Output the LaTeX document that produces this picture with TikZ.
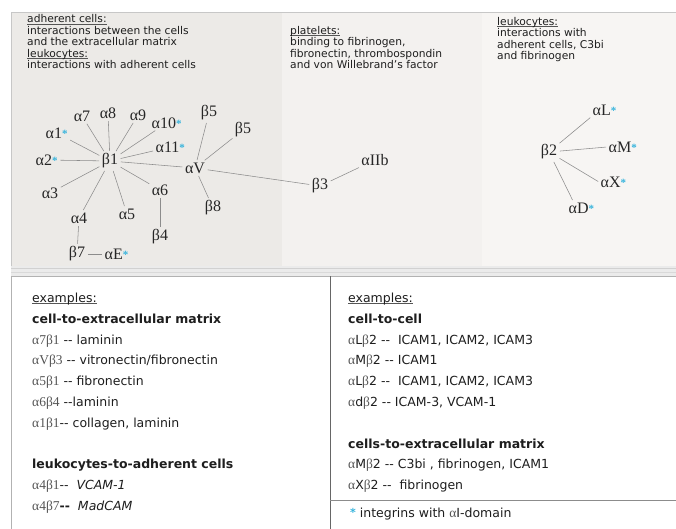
\documentclass[tikz,border=0pt]{standalone}
\usepackage{fontspec}
\setmainfont{DejaVu Sans}
\newfontfamily\grf{Liberation Serif}
\definecolor{pL}{HTML}{ECEAE7}
\definecolor{pM}{HTML}{F3F1EF}
\definecolor{pR}{HTML}{F7F5F3}
\definecolor{txt}{HTML}{1E1E1E}
\definecolor{gtxt}{HTML}{555555}
\definecolor{astc}{HTML}{35B3DC}
\definecolor{linegray}{HTML}{8C8C8C}
\newcommand\cyst{\textcolor{astc}{\raisebox{1pt}{\fontsize{11}{11}\selectfont\bfseries *}}}
\newcommand\myA{{\fontsize{13.5}{13.5}\grf\color{gtxt}α}}
\newcommand\myB{{\fontsize{13.5}{13.5}\grf\color{gtxt}β}}
\newcommand\sg[1]{{\fontsize{13.5}{13.5}\grf\color{gtxt}#1}}
\newcommand\ulx[1]{\setbox0\hbox{#1}\rlap{\color{gtxt}\rule[-1.4pt]{\wd0}{0.45pt}}\box0}
\begin{document}
\begin{tikzpicture}[x=1pt,y=-1pt,
  lbl/.style={font=\fontsize{16}{16}\selectfont\grf, inner sep=1.5pt, text=black!85},
  ln/.style={draw=linegray, line width=0.55pt, shorten >=1pt, shorten <=1pt},
  hd/.style={font=\fontsize{10.7}{12}\selectfont, anchor=base west, inner sep=0pt, text=txt},
  bt/.style={font=\fontsize{12.5}{14}\selectfont, anchor=base west, inner sep=0pt, text=txt},
  bb/.style={font=\fontsize{12.5}{14}\selectfont\bfseries, anchor=base west, inner sep=0pt, text=txt},
]
\useasboundingbox (0,0) rectangle (676,529);
\fill[white] (0,0) rectangle (676,529);
% top panel
\fill[pL] (11,12) rectangle (282,266);
\fill[pM] (282,12) rectangle (482,266);
\fill[pR] (482,12) rectangle (676,266);
\draw[draw=black!22, line width=0.6pt] (11,266) -- (11,12) -- (676,12);
\fill[black!8] (11,266) rectangle (676,276);
\draw[black!18, line width=0.8pt] (11,268) -- (676,268);
\draw[black!15, line width=0.8pt] (11,272) -- (676,272);
% bottom boxes
\draw[black!30, line width=0.6pt] (11,529) -- (11,276) -- (676,276);
\draw[black!60, line width=0.8pt] (330,276) -- (330,529);
\draw[black!45, line width=0.6pt] (330,500) -- (676,500);

% header texts
\node[hd] (h1) at (27,23) {\ulx{adherent cells:}};
\node[hd] (h2) at (27,34.5) {interactions between the cells};
\node[hd] (h3) at (27,46) {and the extracellular matrix};
\node[hd] (h4) at (27,57.5) {\ulx{leukocytes:}};
\node[hd] (h5) at (27,69) {interactions with adherent cells};
\node[hd] (p1) at (290,34.5) {\ulx{platelets:}};
\node[hd] (p2) at (290,46) {binding to fibrinogen,};
\node[hd] (p3) at (290,57.5) {fibronectin, thrombospondin};
\node[hd] (p4) at (290,69) {and von Willebrand's factor};
\node[hd] (r1) at (497,25.5) {\ulx{leukocytes:}};
\node[hd] (r2) at (497,37) {interactions with};
\node[hd] (r3) at (497,48.5) {adherent cells, C3bi};
\node[hd] (r4) at (497,60) {and fibrinogen};

% integrin labels
\node[lbl] (a7) at (82,116) {α7};
\node[lbl] (a8) at (108,113) {α8};
\node[lbl] (a9) at (138,115) {α9};
\node[lbl,anchor=west] (a10) at (150,123) {α10\cyst};
\node[lbl] (b5a) at (209,113) {β5};
\node[lbl] (b5b) at (243,130) {β5};
\node[lbl,anchor=west] (a1) at (44,133) {α1\cyst};
\node[lbl,anchor=west] (a11) at (154,147) {α11\cyst};
\node[lbl,anchor=west] (a2) at (34,160) {α2\cyst};
\node[lbl] (b1) at (110,161) {β1};
\node[lbl] (aV) at (195,168) {αV};
\node[lbl] (a3) at (50,193) {α3};
\node[lbl] (a6) at (160,190) {α6};
\node[lbl] (b8) at (213,208) {β8};
\node[lbl] (a4) at (79,218) {α4};
\node[lbl] (a5) at (127,214) {α5};
\node[lbl] (b4) at (160,237) {β4};
\node[lbl] (b7) at (77,254) {β7};
\node[lbl,anchor=west] (aE) at (103,254) {αE\cyst};
\node[lbl] (b3) at (320,186) {β3};
\node[lbl] (aIIb) at (375,160) {αIIb};
\node[lbl] (b2) at (549,152) {β2};
\node[lbl,anchor=west] (aL) at (591,110) {αL\cyst};
\node[lbl,anchor=west] (aM) at (607,147) {αM\cyst};
\node[lbl,anchor=west] (aX) at (599,182) {αX\cyst};
\node[lbl,anchor=west] (aD) at (567,208) {αD\cyst};

% connectors
\draw[ln] (a7) -- (b1);
\draw[ln] (a8) -- (b1);
\draw[ln] (a9) -- (b1);
\draw[ln] (a10) -- (b1);
\draw[ln] (a11) -- (b1);
\draw[ln] (a1) -- (b1);
\draw[ln] (a2) -- (b1);
\draw[ln] (a3) -- (b1);
\draw[ln] (a4) -- (b1);
\draw[ln] (a5) -- (b1);
\draw[ln] (a6) -- (b1);
\draw[ln] (b1) -- (aV);
\draw[ln] (b5a) -- (aV);
\draw[ln] (b5b) -- (aV);
\draw[ln] (aV) -- (b8);
\draw[ln] (aV) -- (b3);
\draw[ln] (b3) -- (aIIb);
\draw[ln] (a6) -- (b4);
\draw[ln] (a4) -- (b7);
\draw[ln] (b7) -- (aE);
\draw[ln] (b2) -- (aL.south west);
\draw[ln] (b2) -- (aM.west);
\draw[ln] (b2) -- (aX.west);
\draw[ln] (b2) -- ([xshift=6pt]aD.north west);

% bottom left column
\node[bt] (e1) at (32,302.5) {\ulx{examples:}};
\node[bb] (e2) at (32,323.3) {cell-to-extracellular matrix};
\node[bt] (e3) at (32,344.1) {\sg{α7β1} -{}- laminin};
\node[bt] (e4) at (32,364.9) {\sg{αVβ3} -{}- vitronectin/fibronectin};
\node[bt] (e5) at (32,385.7) {\sg{α5β1} -{}- fibronectin};
\node[bt] (e6) at (32,406.5) {\sg{α6β4} -{}-laminin};
\node[bt] (e7) at (32,427.3) {\sg{α1β1}-{}- collagen, laminin};
\node[bb] (e8) at (32,468.9) {leukocytes-to-adherent cells};
\node[bt] (e9) at (32,489.7) {\sg{α4β1}-{}-\ \ \textit{VCAM-1}};
\node[bt] (e10) at (32,510.5) {\sg{α4β7}\textbf{-{}-}\ \ \textit{MadCAM}};

% bottom right column
\node[bt] (f1) at (348,302.5) {\ulx{examples:}};
\node[bb] (f2) at (348,323.3) {cell-to-cell};
\node[bt] (f3) at (348,344.1) {\myA L\myB 2 -{}-\ \ ICAM1, ICAM2, ICAM3};
\node[bt] (f4) at (348,364.9) {\myA M\myB 2 -{}- ICAM1};
\node[bt] (f5) at (348,385.7) {\myA L\myB 2 -{}-\ \ ICAM1, ICAM2, ICAM3};
\node[bt] (f6) at (348,406.5) {\myA d\myB 2 -{}- ICAM-3, VCAM-1};
\node[bb] (f7) at (348,448.1) {cells-to-extracellular matrix};
\node[bt] (f8) at (348,468.9) {\myA M\myB 2 -{}- C3bi , fibrinogen, ICAM1};
\node[bt] (f9) at (348,489.7) {\myA X\myB 2 -{}-\ \ fibrinogen};
\node[bt] (fn) at (350,517.5) {\cyst\ integrins with \myA I-domain};
\end{tikzpicture}
\end{document}
